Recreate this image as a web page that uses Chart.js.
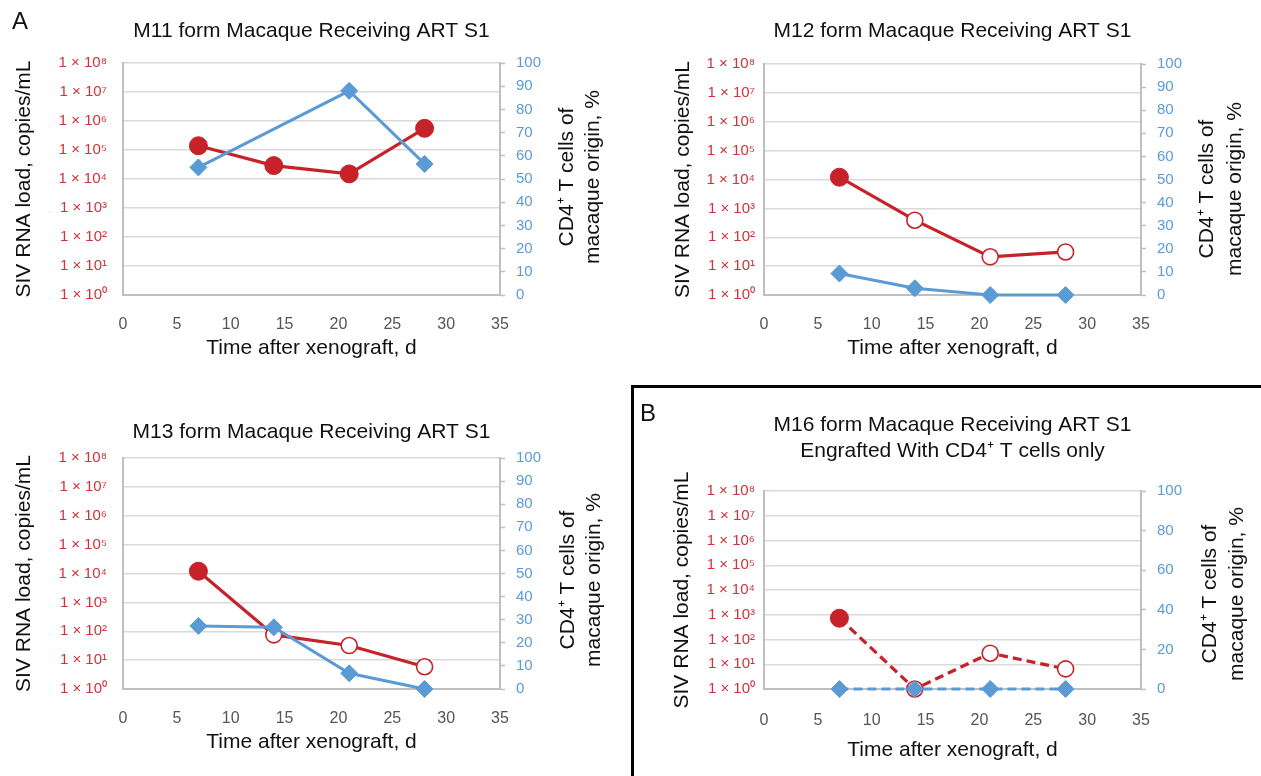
<!DOCTYPE html>
<html><head><meta charset="utf-8">
<script src="https://cdn.jsdelivr.net/npm/chart.js@4.4.0/dist/chart.umd.min.js"></script>
<style>
html,body{margin:0;padding:0;background:#fff;width:1261px;height:776px;overflow:hidden;}
#wrap{position:relative;width:1261px;height:776px;overflow:hidden;}
canvas{position:absolute;}
#boxB{position:absolute;left:631px;top:385px;width:700px;height:500px;border:3px solid #000;box-sizing:border-box;}
</style></head><body><div id="wrap">
<div id="boxB"></div>
<canvas id="c1"></canvas><canvas id="c2"></canvas><canvas id="c3"></canvas><canvas id="c4"></canvas>
</div>
<script>
// ---- data ----
const days = [7, 14, 21, 28];
const xTickStep = 5;
const xMin = 0, xMax = 35;
const rnaTickValues = [1, 10, 100, 1e3, 1e4, 1e5, 1e6, 1e7, 1e8];
const cd4Min = 0, cd4Max = 100;

const m11RNA = [1.4e5, 2.9e4, 1.5e4, 5.6e5];
const m11RNAFilled = [true, true, true, true];
const m11CD4Days = [7, 21, 28];
const m11CD4 = [55, 88, 56.5];

const m12RNA = [1.2e4, 390, 21, 31];
const m12RNAFilled = [true, false, false, false];
const m12CD4 = [9.3, 2.9, 0, 0];

const m13RNA = [1.2e4, 75, 32, 5.9];
const m13RNAFilled = [true, false, false, false];
const m13CD4 = [27.3, 26.7, 6.8, 0];

const m16RNA = [725, 1, 28, 6.5];
const m16RNAFilled = [true, false, false, false];
const m16CD4 = [0, 0, 0, 0];

const leftTitle = 'SIV RNA load, copies/mL';
const rightTitle = ['CD4\u207A T cells of', 'macaque origin, %'];
const xTitle = 'Time after xenograft, d';

// ---- styles ----
const RED = '#C62229';
const RED_TXT = '#D0323A';
const BLUE = '#5B9BD5';
const GRID = '#D9D9D9';
const AXIS = '#BFBFBF';
const FONT = '"Liberation Sans", Arial, Helvetica, sans-serif';
const SUP = ['\u2070','\u00B9','\u00B2','\u00B3','\u2074','\u2075','\u2076','\u2077','\u2078'];

function pts(xs, ys){ return xs.map((x,i)=>({x:x, y:ys[i]})); }

function textPlugin(o){
  return { id:'txt', afterDraw(chart){
    const ctx = chart.ctx, cx = o.canvas.x, cy = o.canvas.y;
    const ca = chart.chartArea;
    ctx.save();
    ctx.fillStyle = '#111';
    ctx.textAlign = 'center'; ctx.textBaseline = 'middle';
    ctx.font = '21px ' + FONT;
    const mid = (ca.left + ca.right)/2;
    o.title.forEach((t,i)=>ctx.fillText(t, mid, o.titleY[i]-cy));
    rightTitle.forEach((t,i)=>{
      ctx.save(); ctx.translate(o.rtX[i]-cx, o.rtY-cy); ctx.rotate(-Math.PI/2);
      ctx.fillText(t, 0, 0); ctx.restore();
    });
    if (o.letter){ ctx.font = '24px ' + FONT; ctx.fillText(o.letter.t, o.letter.x-cx, o.letter.y-cy); }
    ctx.restore();
  }};
}

function build(id, o){
  const cv = document.getElementById(id);
  cv.style.left = o.canvas.x+'px'; cv.style.top = o.canvas.y+'px';
  cv.width = o.canvas.w; cv.height = o.canvas.h;
  const A = o.area, cx = o.canvas.x, cy = o.canvas.y;
  const dash = o.dashed ? [9,5] : [];
  new Chart(cv, {
    type: 'line',
    data: { datasets: [
      { label:'CD4', yAxisID:'y2', data: pts(o.cd4Days, o.cd4),
        borderColor: BLUE, backgroundColor: BLUE, borderWidth: 3, borderDash: dash,
        pointStyle:'rectRot', pointRadius: 8.5, pointBackgroundColor: BLUE, pointBorderColor: BLUE, pointBorderWidth: 1,
        clip:false, tension:0, fill:false },
      { label:'RNA', yAxisID:'y', data: pts(days, o.rna),
        borderColor: RED, backgroundColor: RED, borderWidth: 3.2, borderDash: dash,
        pointStyle:'circle',
        pointRadius: o.filled.map(f=>f?9:8),
        pointBackgroundColor: o.filled.map(f=>f?RED:'#ffffff'),
        pointBorderColor: RED, pointBorderWidth: o.filled.map(f=>f?1:1.6),
        clip:false, tension:0, fill:false }
    ]},
    options: {
      responsive:false, animation:false, events:[],
      layout:{ padding:{ left:0, right:0, top:A.top-cy, bottom:0 } },
      plugins:{ legend:{display:false}, tooltip:{enabled:false}, title:{display:false} },
      scales:{
        x:{ type:'linear', position:'bottom', min:xMin, max:xMax,
            grid:{display:false}, border:{display:true, color:AXIS, width:2},
            ticks:{ stepSize:xTickStep, color:'#555555', font:{family:FONT, size:16}, padding:o.xTickPad, maxRotation:0 },
            title:{ display:true, text:xTitle, color:'#111', font:{family:FONT, size:21}, padding:{top:0, bottom:o.xTitlePad} },
            afterFit: s=>{ s.height = cy + o.canvas.h - A.bottom; } },
        y:{ type:'logarithmic', position:'left', min:1, max:1e8,
            grid:{ color:GRID, lineWidth:1.5, drawTicks:false },
            border:{ display:true, color:AXIS, width:2 },
            afterBuildTicks: s=>{ s.ticks = rnaTickValues.map(v=>({value:v})); },
            ticks:{ autoSkip:false, color:RED_TXT, font:{family:FONT, size:15}, padding:o.yTickPad,
                    callback: v=>'1 \u00D7 10' + SUP[Math.round(Math.log10(v))] },
            title:{ display:true, text:leftTitle, color:'#111', font:{family:FONT, size:21}, padding:{top:o.yTitlePad, bottom:0} },
            afterFit: s=>{ s.width = A.left - cx; } },
        y2:{ type:'linear', position:'right', min:cd4Min, max:cd4Max,
             grid:{ drawOnChartArea:false, drawTicks:true, tickLength:5, tickColor:AXIS, tickWidth:1.5 },
             border:{ display:true, color:AXIS, width:2 },
             ticks:{ stepSize:o.cd4Step, color:BLUE, font:{family:FONT, size:15}, padding:11 },
             afterFit: s=>{ s.width = cx + o.canvas.w - A.right; } }
      }
    },
    plugins:[ textPlugin(o) ]
  });
}

build('c1', { canvas:{x:0,y:0,w:630,h:380}, area:{left:123,right:500,top:63,bottom:295},
  title:['M11 form Macaque Receiving ART S1'], titleY:[31], rtX:[567,593], rtY:177,
  yTitlePad:12, yTickPad:16, xTickPad:12, xTitlePad:19, cd4Step:10, letter:{t:'A',x:20,y:22},
  rna:m11RNA, filled:m11RNAFilled, cd4Days:m11CD4Days, cd4:m11CD4 });
build('c2', { canvas:{x:640,y:0,w:621,h:380}, area:{left:764,right:1141,top:64,bottom:295},
  title:['M12 form Macaque Receiving ART S1'], titleY:[31], rtX:[1207,1235], rtY:189,
  yTitlePad:31, yTickPad:9, xTickPad:12, xTitlePad:19, cd4Step:10,
  rna:m12RNA, filled:m12RNAFilled, cd4Days:days, cd4:m12CD4 });
build('c3', { canvas:{x:0,y:390,w:630,h:386}, area:{left:123,right:500,top:458,bottom:689},
  title:['M13 form Macaque Receiving ART S1'], titleY:[432], rtX:[568,594], rtY:580,
  yTitlePad:12, yTickPad:16, xTickPad:12, xTitlePad:21, cd4Step:10,
  rna:m13RNA, filled:m13RNAFilled, cd4Days:days, cd4:m13CD4 });
build('c4', { canvas:{x:636,y:390,w:625,h:386}, area:{left:764,right:1141,top:491,bottom:689},
  title:['M16 form Macaque Receiving ART S1','Engrafted With CD4\u207A T cells only'], titleY:[425,451], rtX:[1210,1237], rtY:594,
  yTitlePad:34, yTickPad:9, xTickPad:14, xTitlePad:13, cd4Step:20, dashed:true, letter:{t:'B',x:648,y:414},
  rna:m16RNA, filled:m16RNAFilled, cd4Days:days, cd4:m16CD4 });
</script>
</body></html>
